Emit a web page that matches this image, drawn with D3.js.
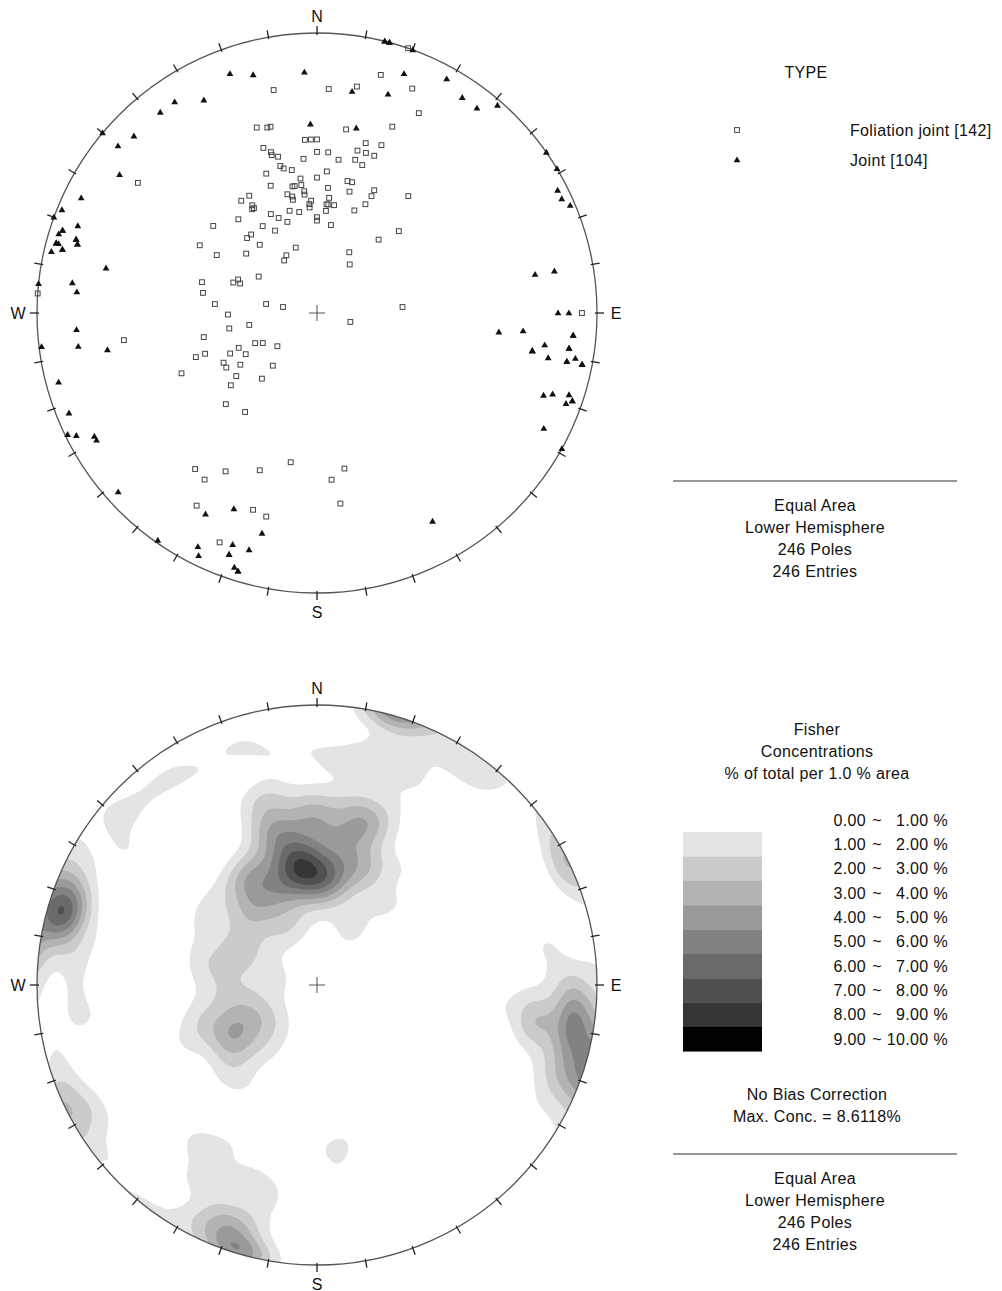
<!DOCTYPE html>
<html>
<head>
<meta charset="utf-8">
<script src="https://cdn.jsdelivr.net/npm/d3@7"></script>
<style>
  body { margin: 0; background: #fff; }
  text { font-family: "Liberation Sans", Arial, sans-serif; fill: #111; }
  .lg { font-size: 16px; letter-spacing: 0.35px; }
  .card { font-size: 16px; }
</style>
</head>
<body>
<svg id="chart" width="1002" height="1291"></svg>
<script>
// Pole orientations (trend °, plunge °), lower hemisphere
const foliationTrend = [
  349,3,10,15,23,19,
  27,342,345,346,9,22,356,358,0,342,
  344,344,346,355,0,4,8,16,21,14,
  17,20,14,17,346,347,350,340,4,353,
  0,13,15,340,349,350,353,5,15,25,
  25,38,330,326,346,348,354,354,348,6,
  357,356,356,5,6,9,24,20,329,329,
  328,335,338,345,350,342,0,0,5,9,
  320,310,328,333,320,317,320,300,300,310,
  342,332,328,28,34,40,45,302,285,290,
  293,291,280,
  306,
  275,258,250,250,242,246,274,262,
  280,280,269,260,260,86,105,244,241,230,
  246,245,240,239,236,220,232,220,230,225,
  90,
  218,214,210,212,203,
  216,200,190,170,175,173,198,194
];
const foliationPlunge = [
  20,21,19,13,14,0,
  21,31,32,32,34,29,38,38,38,38,
  40,41,42,44,42,42,44,37,36,40,
  40,40,43,44,45,46,47,46,48,50,
  50,50,50,50,52,52,52,53,53,50,
  52,46,50,50,54,55,54,55,56,56,
  57,58,59,58,58,58,55,58,53,54,
  54,58,60,59,60,62,62,63,60,64,
  54,50,60,63,60,60,64,50,56,63,
  70,71,72,70,73,62,56,70,55,64,
  65,66,56,
  22,
  60,56,55,52,59,46,0,31,
  75,80,64,64,70,65,80,70,72,75,
  65,62,66,59,63,70,60,65,57,52,
  6,
  30,29,35,20,12,
  54,40,45,43,40,32,27,26
];
const jointTrend = [
  292,296,305,310,314,322,326,332,310,
  340,345,357,9,18,20,358,12,14,15,20,
  29,34,38,41,55,59,63,65,67,
  80,80,90,90,96,95,95,98,98,100,100,101,101,100,101,101,110,109,108,110,109,
  117,119,151,
  290,288,287,287,286,285,285,284,283,282,276,277,275,266,263,262,260,255,290,
  248,244,243,241,240,228,215,209,207,206,
  203,194,200,200,196,198,197,
  288,285,286,284,287,100,101,101,98,95,109,197,200,14,15
];
const jointPlunge = [
  2,7,15,8,10,10,10,15,0,
  10,13,15,21,19,10,33,33,0,0,0,
  5,8,8,2,0,0,4,4,2,
  22,15,15,11,35,27,9,19,10,23,23,17,10,7,4,4,15,12,6,6,4,
  10,0,16,
  10,5,4,11,12,4,5,7,3,24,0,13,15,15,1,15,25,5,0,
  5,1,4,10,10,5,1,19,7,4,
  25,20,13,9,13,5,4,
  5,4,12,7,11,23,10,4,10,9,4,4,9,0,0
];

const cardinals = [{ label: "N", az: 0 }, { label: "E", az: 90 }, { label: "S", az: 180 }, { label: "W", az: 270 }];
const typeLabels = ["Foliation joint [142]", "Joint [104]"];
const levelLow = [0, 1, 2, 3, 4, 5, 6, 7, 8, 9];
const levelHigh = [1, 2, 3, 4, 5, 6, 7, 8, 9, 10];
const levelColors = ["#ffffff", "#e4e4e4", "#cbcbcb", "#b3b3b3", "#9a9a9a",
                     "#828282", "#6a6a6a", "#505050", "#353535", "#000000"];
const netInfo = ["Equal Area", "Lower Hemisphere", "246 Poles", "246 Entries"];

const R = 280;
const topNet = { cx: 317, cy: 313 };
const botNet = { cx: 317, cy: 985 };
const rad = Math.PI / 180;
const svg = d3.select("#chart");
svg.append("rect").attr("width", 1002).attr("height", 1291).attr("fill", "#fff");

// Schmidt (equal-area) projection onto the unit disc: x east, y north
function project(t, p) {
  const r = Math.SQRT2 * Math.sin((90 - p) / 2 * rad);
  return [r * Math.sin(t * rad), r * Math.cos(t * rad)];
}
function unitVec(t, p) {
  return [Math.cos(p * rad) * Math.cos(t * rad), Math.cos(p * rad) * Math.sin(t * rad), Math.sin(p * rad)];
}

function scalesFor(net) {
  return {
    x: d3.scaleLinear().domain([-1, 1]).range([net.cx - R, net.cx + R]),
    y: d3.scaleLinear().domain([-1, 1]).range([net.cy + R, net.cy - R])
  };
}

function drawFrame(net) {
  const g = svg.append("g");
  g.append("circle").attr("cx", net.cx).attr("cy", net.cy).attr("r", R)
    .attr("fill", "none").attr("stroke", "#555").attr("stroke-width", 1.3);
  g.selectAll("line.tk").data(d3.range(0, 360, 10)).join("line")
    .attr("x1", a => net.cx + (R - 2) * Math.sin(a * rad))
    .attr("y1", a => net.cy - (R - 2) * Math.cos(a * rad))
    .attr("x2", a => net.cx + (R + 7) * Math.sin(a * rad))
    .attr("y2", a => net.cy - (R + 7) * Math.cos(a * rad))
    .attr("stroke", "#222").attr("stroke-width", 1.3);
  g.selectAll("text.cd").data(cardinals).join("text")
    .attr("class", "card")
    .attr("x", d => net.cx + (R + 19) * Math.sin(d.az * rad))
    .attr("y", d => net.cy - (R + (d.az === 0 ? 17 : 19)) * Math.cos(d.az * rad))
    .attr("text-anchor", "middle").attr("dominant-baseline", "central")
    .text(d => d.label);
  g.append("path")
    .attr("d", `M${net.cx - 8},${net.cy}H${net.cx + 8}M${net.cx},${net.cy - 8}V${net.cy + 8}`)
    .attr("stroke", "#555").attr("stroke-width", 1);
}

// ---------- Top net: pole plot ----------
{
  const s = scalesFor(topNet);
  const fol = foliationTrend.map((t, i) => project(t, foliationPlunge[i]));
  const jnt = jointTrend.map((t, i) => project(t, jointPlunge[i]));
  drawFrame(topNet);
  svg.append("g").selectAll("rect").data(fol).join("rect")
    .attr("x", d => s.x(d[0]) - 2.4).attr("y", d => s.y(d[1]) - 2.4)
    .attr("width", 4.8).attr("height", 4.8)
    .attr("fill", "none").attr("stroke", "#444").attr("stroke-width", 1);
  const tri = "M0,-3.6L3.4,2.3L-3.4,2.3Z";
  svg.append("g").selectAll("path").data(jnt).join("path")
    .attr("transform", d => `translate(${s.x(d[0])},${s.y(d[1])})`)
    .attr("d", tri).attr("fill", "#111");

  // legend
  const lg = svg.append("g");
  lg.append("text").attr("class", "lg").attr("x", 806).attr("y", 72)
    .attr("text-anchor", "middle").attr("dominant-baseline", "central").text("TYPE");
  lg.append("rect").attr("x", 737 - 2.4).attr("y", 130 - 2.4).attr("width", 4.8).attr("height", 4.8)
    .attr("fill", "none").attr("stroke", "#444");
  lg.append("path").attr("transform", "translate(737,160)").attr("d", tri).attr("fill", "#111");
  lg.selectAll("text.it").data(typeLabels).join("text").attr("class", "lg")
    .attr("x", 850).attr("y", (d, i) => 130 + i * 30).attr("dominant-baseline", "central").text(d => d);
  lg.append("line").attr("x1", 673).attr("x2", 957).attr("y1", 481).attr("y2", 481)
    .attr("stroke", "#333").attr("stroke-width", 1.2);
  lg.selectAll("text.inf").data(netInfo).join("text").attr("class", "lg")
    .attr("x", 815).attr("y", (d, i) => 505 + i * 22.3)
    .attr("text-anchor", "middle").attr("dominant-baseline", "central").text(d => d);
}

// ---------- Bottom net: Fisher concentration contours ----------
{
  const net = botNet;
  const kappa = 150;
  const vecs = foliationTrend.map((t, i) => unitVec(t, foliationPlunge[i]))
    .concat(jointTrend.map((t, i) => unitVec(t, jointPlunge[i])));
  const N = vecs.length;
  const n = 220;
  const grid = new Float64Array(n * n);
  for (let j = 0; j < n; j++) {
    const Y = 1 - (j + 0.5) * 2 / n;
    for (let i = 0; i < n; i++) {
      const X = -1 + (i + 0.5) * 2 / n;
      const rho = Math.hypot(X, Y);
      const rr = Math.min(rho, 1.4);
      const th = 2 * Math.asin(rr / Math.SQRT2);
      const st = Math.sin(th);
      const vn = rho > 0 ? st * Y / rho : 0;
      const ve = rho > 0 ? st * X / rho : 0;
      const vd = Math.cos(th);
      let sum = 0;
      for (let k = 0; k < N; k++) {
        const v = vecs[k];
        const c = Math.abs(v[0] * vn + v[1] * ve + v[2] * vd);
        sum += Math.exp(kappa * (c - 1));
      }
      grid[j * n + i] = kappa * sum / N;   // % of total per 1 % area
    }
  }
  const bands = d3.contours().size([n, n]).thresholds(d3.range(1, 10))(grid);
  const path = d3.geoPath(d3.geoIdentity().scale(2 * R / n).translate([net.cx - R, net.cy - R]));
  svg.append("clipPath").attr("id", "disc").append("circle")
    .attr("cx", net.cx).attr("cy", net.cy).attr("r", R);
  svg.append("g").attr("clip-path", "url(#disc)")
    .selectAll("path").data(bands).join("path")
    .attr("d", path).attr("fill", d => levelColors[Math.min(d.value, 9)]).attr("stroke", "none");
  drawFrame(net);

  // legend
  const lg = svg.append("g");
  ["Fisher", "Concentrations", "% of total per 1.0 % area"].forEach((t, i) =>
    lg.append("text").attr("class", "lg").attr("x", 817).attr("y", 729 + i * 22)
      .attr("text-anchor", "middle").attr("dominant-baseline", "central").text(t));
  const rowY = i => 820 + i * 24.35;
  lg.selectAll("rect.sw").data(levelColors.slice(1)).join("rect")
    .attr("x", 683).attr("width", 79)
    .attr("y", (d, i) => rowY(i + 1) - 12.2).attr("height", 24.6)
    .attr("fill", d => d);
  lg.selectAll("text.lo").data(levelLow).join("text").attr("class", "lg")
    .attr("x", 866).attr("y", (d, i) => rowY(i)).attr("text-anchor", "end")
    .attr("dominant-baseline", "central").text(d => d3.format(".2f")(d));
  lg.selectAll("text.tl").data(levelLow).join("text").attr("class", "lg")
    .attr("x", 877).attr("y", (d, i) => rowY(i)).attr("text-anchor", "middle")
    .attr("dominant-baseline", "central").text("~");
  lg.selectAll("text.hi").data(levelHigh).join("text").attr("class", "lg")
    .attr("x", 948).attr("y", (d, i) => rowY(i)).attr("text-anchor", "end")
    .attr("dominant-baseline", "central").text(d => d3.format(".2f")(d) + " %");
  lg.append("text").attr("class", "lg").attr("x", 817).attr("y", 1094)
    .attr("text-anchor", "middle").attr("dominant-baseline", "central").text("No Bias Correction");
  lg.append("text").attr("class", "lg").attr("x", 817).attr("y", 1116)
    .attr("text-anchor", "middle").attr("dominant-baseline", "central").text("Max. Conc. = 8.6118%");
  lg.append("line").attr("x1", 673).attr("x2", 957).attr("y1", 1154).attr("y2", 1154)
    .attr("stroke", "#333").attr("stroke-width", 1.2);
  lg.selectAll("text.inf").data(netInfo).join("text").attr("class", "lg")
    .attr("x", 815).attr("y", (d, i) => 1178 + i * 22.3)
    .attr("text-anchor", "middle").attr("dominant-baseline", "central").text(d => d);
}
</script>
</body>
</html>
